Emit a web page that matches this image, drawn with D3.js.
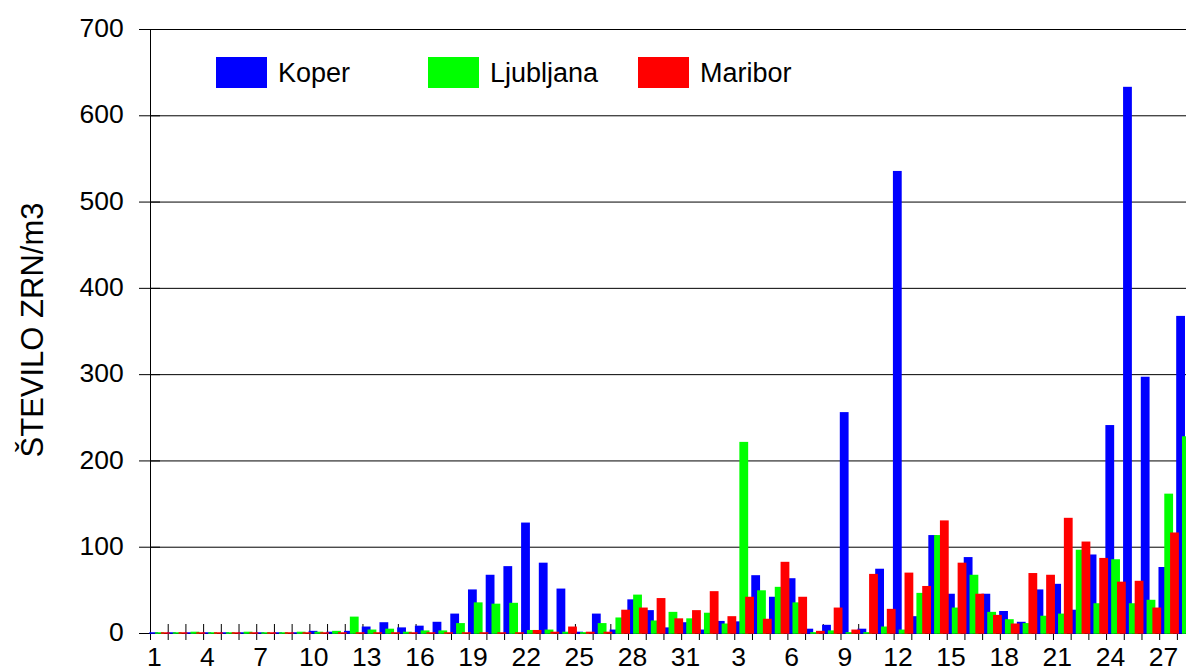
<!DOCTYPE html>
<html>
<head>
<meta charset="utf-8">
<script src="https://cdn.jsdelivr.net/npm/d3@7"></script>
<style>
  html, body { margin: 0; padding: 0; background: #fff; }
  svg { display: block; font-family: "Liberation Sans", Arial, sans-serif; }
</style>
</head>
<body>
<svg id="chart" width="1186" height="668"></svg>
<script>
// ---- data ----
const days = [
  "1","2","3","4","5","6","7","8","9","10","11","12","13","14","15","16","17","18","19","20",
  "21","22","23","24","25","26","27","28","29","30","31",
  "1","2","3","4","5","6","7","8","9","10","11","12","13","14","15","16","17","18","19","20",
  "21","22","23","24","25","26","27","28"
];
const seriesNames = ["Koper", "Ljubljana", "Maribor"];
const seriesColors = ["#0000FF", "#00FF00", "#FF0000"];
const koper = [
  0,0,0,0,0,0,0,0,0,2.5,1.5,2.5,7.5,12.5,6.5,8.5,13,22.5,50.5,67.5,
  77.5,128,81.5,51.5,1.5,22.5,4,39,26.5,6.5,12.5,
  4,14,13.5,67,42,63.5,5,9.5,256,5,74.5,535.5,19.5,113.5,45.5,88,45.5,25.5,13,50.5,
  57,27,91,241,633,297,76.5,367.5
];
const ljubljana = [
  0.5,0.5,1.5,0.5,0.5,1.5,0.5,0.5,1.5,1.5,2.5,19,4,5,1.5,3,3,11.5,35.5,34,
  35,3.5,4,1.5,1,11.5,18,44.5,14.5,24.5,17,
  23.5,11,221.5,49.5,53.5,35.5,1,3,1,1,7.5,4,46.5,113.5,29.5,67.5,24.5,16,11.5,20,
  22.5,96.5,34.5,85.5,34.5,38.5,161.5,228
];
const maribor = [
  0,0,0,0,0,0,0,0,0,0,0,0,0,0,0,0.5,0,0,0,0,
  0,3.5,1.5,7.5,1.5,1.5,27,29.5,40.5,17,26.5,
  48.5,19.5,42,16.5,82.5,42,2.5,29.5,4,68.5,28,70,54.5,130.5,81.5,45.5,21,11,69.5,67.5,
  133.5,106,87,59.5,60.5,29.5,116.5,null
];
const yTicks = [0,100,200,300,400,500,600,700];
const labelEvery = 3;

// ---- layout ----
const W = 1186, H = 668;
const plotLeft = 150, plotTop = 29, plotBottom = 633;
const step = 17.705;
const n = days.length;

const svg = d3.select("#chart");
svg.append("rect").attr("width", W).attr("height", H).attr("fill", "#fff");

const y = d3.scaleLinear().domain([0, 700]).range([plotBottom, plotTop]);
const xBand = d3.scaleBand().domain(d3.range(n)).range([plotLeft, plotLeft + n * step]).padding(0);
const xEdge = d3.scaleLinear().domain([0, n]).range([plotLeft, plotLeft + n * step]);

// gridlines
svg.append("g")
  .attr("transform", `translate(${plotLeft},0)`)
  .call(d3.axisLeft(y).tickValues(yTicks.filter(v => v > 0)).tickSize(-(W - plotLeft)).tickFormat(""))
  .call(g => g.select(".domain").remove())
  .call(g => g.selectAll("line").attr("stroke", "#000").attr("stroke-width", 1));

// y axis
svg.append("g")
  .attr("transform", `translate(${plotLeft},0)`)
  .call(d3.axisLeft(y).tickValues(yTicks).tickSize(11).tickSizeOuter(0).tickPadding(15.2))
  .call(g => g.select(".domain").attr("stroke", "#000"))
  .call(g => g.selectAll("line").attr("stroke", "#000"))
  .call(g => g.selectAll("text")
      .attr("font-size", 26.5)
      .attr("font-family", "'Liberation Sans', Arial, sans-serif")
      .attr("fill", "#000")
      .attr("dy", "0.29em"));
// right part of cross ticks on y axis
svg.append("g")
  .attr("transform", `translate(${plotLeft},0)`)
  .call(d3.axisLeft(y).tickValues(yTicks).tickSize(-10).tickSizeOuter(0).tickFormat(""))
  .call(g => g.select(".domain").remove())
  .call(g => g.selectAll("line").attr("stroke", "#000"));

// x axis: cross ticks at category edges (below bars)
svg.append("g")
  .attr("transform", `translate(0,${plotBottom})`)
  .call(d3.axisBottom(xEdge).tickValues(d3.range(0, n)).tickSize(7).tickSizeOuter(0).tickFormat(""))
  .call(g => g.select(".domain").attr("stroke", "#000"))
  .call(g => g.selectAll("line").attr("stroke", "#000"));
svg.append("g")
  .attr("transform", `translate(0,${plotBottom})`)
  .call(d3.axisBottom(xEdge).tickValues(d3.range(0, n)).tickSize(-9).tickSizeOuter(0).tickFormat(""))
  .call(g => g.select(".domain").remove())
  .call(g => g.selectAll("line").attr("stroke", "#000"));

// bars
const barW = 8.8, offs = [-0.7, 5.1, 10.9];
const allSeries = [koper, ljubljana, maribor];
allSeries.forEach((vals, s) => {
  svg.append("g")
    .attr("class", "series-" + seriesNames[s])
    .selectAll("rect")
    .data(vals.map((v, i) => ({ v, i })).filter(d => d.v !== null))
    .join("rect")
    .attr("x", d => xBand(d.i) + offs[s])
    .attr("width", barW)
    .attr("y", d => Math.min(y(d.v), y(0) - 0.75))
    .attr("height", d => Math.max(y(0) - y(d.v), 0.75) + 0.75)
    .attr("fill", seriesColors[s]);
});

// x labels
svg.append("g")
  .attr("transform", `translate(0,${plotBottom})`)
  .call(d3.axisBottom(xBand).tickValues(d3.range(0, n, labelEvery)).tickSize(0).tickFormat(i => days[i]))
  .call(g => g.select(".domain").remove())
  .call(g => g.selectAll("text")
      .attr("font-size", 26.5)
      .attr("font-family", "'Liberation Sans', Arial, sans-serif")
      .attr("fill", "#000")
      .attr("y", 33)
      .attr("dy", 0)
      .attr("dx", -4.5));

// y axis title
svg.append("text")
  .attr("transform", "translate(43,330) rotate(-90)")
  .attr("text-anchor", "middle")
  .attr("font-size", 31)
  .attr("fill", "#000")
  .text("ŠTEVILO ZRN/m3");

// legend
const legendX = [216, 428, 638];
const lg = svg.append("g");
seriesNames.forEach((name, s) => {
  lg.append("rect").attr("x", legendX[s]).attr("y", 57).attr("width", 51).attr("height", 31).attr("fill", seriesColors[s]);
  lg.append("text").attr("x", legendX[s] + 62).attr("y", 82).attr("font-size", 27).attr("fill", "#000").text(name);
});
</script>
</body>
</html>
